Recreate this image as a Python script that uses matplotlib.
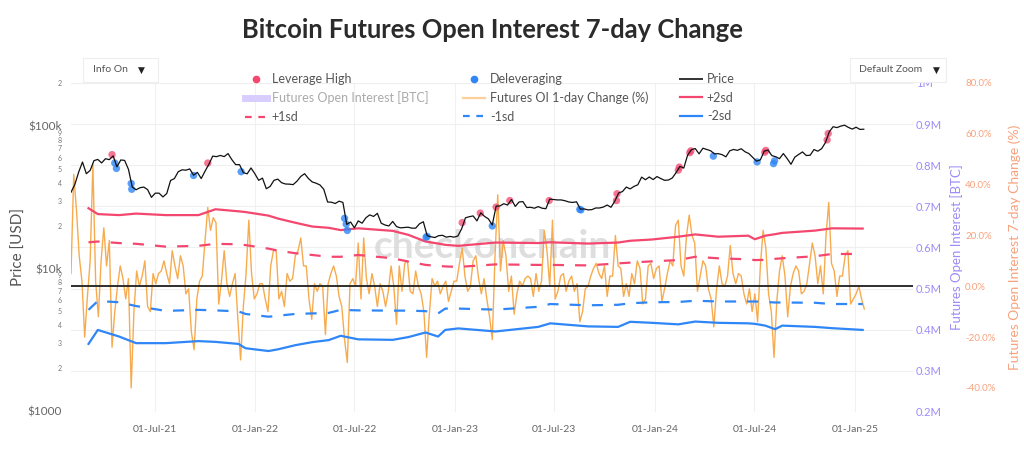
import numpy as np
import pandas as pd
import matplotlib
matplotlib.use("Agg")
import matplotlib.pyplot as plt
import matplotlib.dates as mdates
from matplotlib.lines import Line2D
from matplotlib.patches import Rectangle
from matplotlib.ticker import FixedLocator, FuncFormatter

plt.rcParams['font.family'] = ['Lato', 'DejaVu Sans']
plt.rcParams['axes.unicode_minus'] = False

# ---- data ----
# futures OI change (%), one value every 5 days from 2021-01-29
oi_change_start = "2021-01-29"
oi_change = [
    5, 44, 30, 12, 2, -20, -4, 10, 48, 2, -12, 10, 23, 8, 18, -24, -10, 0, 8, 3,
    -5, 3, -40, -10, 6, 0, 4, 10, -8, -10, 5, 1, 5, 6, 10, 5, 1, 14, 8, 3,
    12, 8, -3, -1, -18, -25, -5,
    2, 4, 18, 31, 22, 27, 25, -7, 2, 14, 1, -4, 1, 5, -13, -29, -8, 5, 26, 5,
    -5, -3, 1, 1, -5, -10, 8, 14, 14, -5, -2, -8, 5, 2, 3, 12, 14, 19, 8, 8,
    -5, -13, 1, -2, 1, 0, -19, 1,
    5, 8, 4, -4, -8, -21, -30, 1, 3, 0, 17, -5, 19, 3, -3, 5, 0, -8, 1, -2,
    -8, -2, 8, 0, -15, 8, -2, 9, 10, -2, -3, 6, 0, -3, -10, -28, -11, 3, 0, 2,
    -3, 0, 2, -6, -2, 2, 2,
    9, 15, 4, -2, 0, 10, 12, 3, -3, 3, -5, -12, -21, 12, 36, 6, 18, 12, -2, 4,
    -11, -3, 2, 0, 3, 4, 3, -4, 5, -2, 2, 22, 14, 0, 26, -5, -2, 4, 5, -2,
    2, 4, -2, 1, -14, -10, -1, 0,
    4, 7, 9, 5, 3, 8, -4, 4, 4, 20, 8, 7, -4, 1, -4, 5, 1, 10, 7, -7,
    -5, 8, 9, 3, 7, 8, -6, -1, 5, 10, 8, 24, 26, 8, 4, 20, 28, 20, 17, -2,
    4, 10, 8, -1, -5, -16, -1,
    8, 1, 0, 4, 16, 5, 1, 5, 4, -3, -7, -1, -10, -3, -14, 8, 22, 15, -3, -10,
    -28, -6, 6, 12, 4, -12, 0, 5, 8, 6, -3, -2, 1, 9, 17, 12, 1, 8, -3, 20,
    33, 9, 6, -4, 4, 4, 12, 14, -7, -5, -3, 0, -5, -9,
]

# BTC price (USD), weekly from 2021-01-29
price_start = "2021-01-29"
price = [
    34300, 38900, 47500, 55900, 46300, 48800, 57200, 58300, 55100, 59000,
    58100, 61700, 51700, 57800, 57400, 49700, 37300, 35700, 36900, 37300,
    35800, 31600, 33800, 33800, 31800, 33600, 41500, 42800, 47800, 49300,
    49000, 50000, 45200, 47300, 42800, 48200, 53900, 61500, 61000, 62200,
    61000, 64100, 58100, 53600, 53600, 47100, 46200, 50800, 46300,
    41600, 43100, 36300, 37700, 41600, 42400, 40000, 39200, 39100, 38800,
    41000, 44300, 46300, 42800, 40500, 39700, 38600, 36000, 29300, 29200,
    28600, 29700, 29100, 20400, 21200, 19300, 21600, 20800, 22700, 23800,
    23200, 24400, 20800, 20200, 19900, 21400, 19700, 19300, 19400, 19500,
    19200, 19200, 20600, 21300, 17000, 16700, 16500, 17000, 17100, 16600,
    16800, 16600,
    16900, 19000, 22700, 23100, 23400, 21600, 24600, 23200, 22300, 20200,
    27400, 27500, 28500, 27900, 30500, 27300, 29300, 29500, 26800, 26900,
    26500, 27200, 26500, 26300, 30700, 30500, 30300, 30300, 29900, 29300,
    29100, 29400, 26100, 26200, 25800, 25900, 26600, 26600, 27000, 27900,
    26900, 29700, 33900, 34700, 37300, 36200, 37700, 38700, 43800, 42000,
    43900, 42100,
    44200, 42800, 41600, 41800, 43200, 47100, 52100, 50700, 62400, 68300,
    69500, 63800, 69900, 68500, 67100, 63800, 64000, 63000, 60800, 67000,
    68500, 67500, 69300, 66000, 64100, 60300, 56700, 57900, 66600, 67900,
    62000, 60900, 59000, 64100, 59100, 53900, 60500, 63200, 65800, 62100,
    62400, 68400, 66600, 69400, 76600, 91100, 98900, 97500, 99900, 101400,
    97800, 95200,
    98100, 94700, 95000,
]

# standard deviation bands (%)
band_dates = [
    "2021-03-02", "2021-03-19", "2021-04-27", "2021-05-28", "2021-07-21",
    "2021-09-19", "2021-10-20", "2021-12-01", "2021-12-14", "2022-01-25",
    "2022-02-12", "2022-03-15", "2022-04-15", "2022-05-15", "2022-06-06",
    "2022-07-08", "2022-09-09", "2022-10-08", "2022-11-08", "2022-12-01",
    "2022-12-14", "2023-01-07", "2023-03-16", "2023-06-02", "2023-06-24",
    "2023-09-01", "2023-10-26", "2023-11-17", "2023-12-27", "2024-02-13",
    "2024-03-15", "2024-04-26", "2024-06-20", "2024-07-02", "2024-07-21",
    "2024-08-08", "2024-08-21", "2024-10-20", "2024-11-20", "2025-01-15",
]
plus2sd = [30.7, 28.4, 28.0, 28.6, 28.0, 28.0, 30.3, 29.5, 29.2, 27.8,
           26.6, 25.0, 23.5, 23.0, 22.1, 22.8, 21.8, 20.2, 17.6, 16.8,
           16.3, 15.9, 17.2, 17.0, 17.3, 16.8, 17.2, 17.9, 18.4, 19.5,
           20.4, 19.5, 19.9, 18.5, 19.9, 20.5, 21.0, 21.9, 22.8, 22.7]
plus1sd = [17.3, 17.6, 17.0, 16.7, 15.6, 15.9, 16.7, 16.5, 16.2, 14.8,
           14.0, 13.0, 12.3, 11.6, 11.6, 12.3, 11.0, 9.7, 8.4, 8.0,
           7.8, 7.6, 8.6, 8.4, 8.4, 8.2, 9.0, 9.3, 9.8, 10.3,
           11.6, 11.0, 10.6, 10.3, 10.4, 10.8, 11.0, 11.8, 12.7, 12.7]
minus1sd = [-9.3, -5.8, -6.3, -7.8, -9.7, -9.3, -9.5, -9.9, -10.9, -12.0,
            -11.6, -10.9, -10.7, -10.5, -9.3, -9.5, -9.6, -9.6, -9.8, -10.7,
            -8.8, -8.8, -9.2, -8.1, -7.0, -7.5, -7.3, -6.7, -6.3, -6.2,
            -5.7, -6.0, -6.0, -6.0, -6.2, -6.4, -6.4, -6.5, -7.0, -7.0]
minus2sd = [-22.7, -17.2, -19.8, -22.4, -22.4, -21.6, -21.9, -22.7, -24.4, -25.5,
            -24.8, -23.2, -22.0, -21.2, -19.5, -20.9, -21.1, -20.0, -18.2, -19.8,
            -17.2, -16.6, -17.8, -16.0, -14.6, -15.8, -16.0, -14.0, -14.4, -15.0,
            -13.9, -14.4, -14.6, -14.8, -15.5, -16.9, -15.5, -16.0, -16.5, -17.2]

lev_high_dates = ["2021-04-14", "2021-10-06", "2023-01-14", "2023-02-16", "2023-03-17",
                  "2023-04-11", "2023-06-22", "2023-10-23", "2023-10-24", "2024-02-13",
                  "2024-02-15", "2024-03-05", "2024-03-07", "2024-07-20", "2024-07-22",
                  "2024-11-11", "2024-11-13"]
lev_high_price = [63000, 55000, 21000, 24500, 27000, 30000, 30000, 30000, 33500, 49000,
                  51500, 65000, 67000, 65500, 67500, 80000, 88600]
delev_dates = ["2021-04-19", "2021-04-22", "2021-05-19", "2021-05-20", "2021-09-10",
               "2021-12-06", "2022-06-13", "2022-06-16", "2022-06-18", "2022-11-09",
               "2022-11-11", "2023-03-10", "2023-08-17", "2023-08-19", "2024-04-17",
               "2024-07-06", "2024-08-05", "2024-08-07"]
delev_price = [55000, 50400, 39500, 36000, 45000, 47800, 22500, 20500, 18500, 16600,
               16800, 19900, 26000, 25800, 61500, 56000, 54500, 57000]

x_ticks = ["2021-07-01", "2022-01-01", "2022-07-01", "2023-01-01",
           "2023-07-01", "2024-01-01", "2024-07-01", "2025-01-01"]

PINK = '#f4476f'
BLUE = '#2f86f6'
ORANGE = '#f7a23c'
PURPLE = '#9b8cf7'
SALMON = '#f7a27d'
GREY = '#666666'


def px(x, y):
    # figure fraction from pixel position (top-left origin)
    return x / 1024, 1 - y / 450


def main():
    oi_dates = pd.date_range(oi_change_start, periods=len(oi_change), freq='5D')
    price_dates = pd.date_range(price_start, periods=len(price), freq='7D')
    bdates = pd.to_datetime(band_dates)
    ticks = pd.to_datetime(x_ticks)

    fig = plt.figure(figsize=(10.24, 4.5), dpi=100)
    rect = [71 / 1024, 1 - 412 / 450, 842 / 1024, 329 / 450]
    ax = fig.add_axes(rect)
    ax_oi = ax.twinx()
    ax_pct = ax.twinx()
    ax_oi.set_zorder(0)
    ax_pct.set_zorder(1)
    ax.set_zorder(2)
    ax.patch.set_visible(False)
    ax_pct.patch.set_visible(False)

    xmin, xmax = pd.Timestamp("2021-01-29"), pd.Timestamp("2025-04-17")

    # OI axis: grid only (series is legend-only)
    ax_oi.set_ylim(200000, 1000000)
    ax_oi.yaxis.set_major_locator(FixedLocator(np.arange(200000, 1000001, 100000)))
    ax_oi.yaxis.set_major_formatter(FuncFormatter(
        lambda v, p: '1M' if v >= 999999 else '%.1fM' % (v / 1e6)))
    ax_oi.grid(axis='y', color='#efefef', lw=0.8)
    for t in ticks:
        ax_oi.axvline(t, color='#f1f1f1', lw=0.8, zorder=0)
    ax_oi.tick_params(axis='y', length=0, pad=2, labelsize=8, labelcolor=PURPLE)
    ax_oi.set_ylabel("Futures Open Interest [BTC]", color=PURPLE, fontsize=9.5)
    ax_oi.yaxis.set_label_coords(1.0445, 0.5)

    # percent axis
    ax_pct.plot(oi_dates, oi_change, color=ORANGE, lw=1.0, alpha=0.9, zorder=2)
    ax_pct.axhline(0, color='#1e1e1e', lw=1.3, zorder=5)
    ax_pct.plot(bdates, plus2sd, color=PINK, lw=1.6, zorder=3)
    ax_pct.plot(bdates, plus1sd, color=PINK, lw=1.6, ls=(0, (5, 5)), zorder=3)
    ax_pct.plot(bdates, minus1sd, color=BLUE, lw=1.6, ls=(0, (5, 5)), zorder=3)
    ax_pct.plot(bdates, minus2sd, color=BLUE, lw=1.6, zorder=3)
    ax_pct.set_ylim(-49.5, 80)
    ax_pct.yaxis.set_major_locator(FixedLocator([-40, -20, 0, 20, 40, 60, 80]))
    ax_pct.yaxis.set_major_formatter(FuncFormatter(lambda v, p: '%.1f%%' % v))
    ax_pct.tick_params(axis='y', length=0, pad=37.5, labelsize=7, labelcolor=SALMON)
    ax_pct.set_ylabel("Futures Open Interest 7-day Change (%)", color=SALMON, fontsize=10)
    ax_pct.yaxis.set_label_coords(1.113, 0.5)

    # price axis (log)
    ax.scatter(pd.to_datetime(lev_high_dates), lev_high_price, s=28, color=PINK,
               alpha=0.75, edgecolor='none', zorder=3)
    ax.scatter(pd.to_datetime(delev_dates), delev_price, s=28, color=BLUE,
               alpha=0.8, edgecolor='none', zorder=3)
    ax.plot(price_dates, price, color='#111111', lw=0.9, zorder=4)
    ax.set_yscale('log')
    ax.set_ylim(984, 200500)
    ax.yaxis.set_major_locator(FixedLocator([1000, 10000, 100000]))
    ax.yaxis.set_major_formatter(FuncFormatter(
        lambda v, p: {1000: '$1000', 10000: '$10k', 100000: '$100k'}.get(int(round(v)), '')))
    minors = [m * d for d in (1000, 10000, 100000) for m in range(2, 10)]
    ax.yaxis.set_minor_locator(FixedLocator(minors))
    ax.yaxis.set_minor_formatter(FuncFormatter(
        lambda v, p: str(int(round(v / 10 ** np.floor(np.log10(v)))))))
    ax.tick_params(axis='y', which='major', length=0, pad=6.5, labelsize=8.5, labelcolor=GREY)
    ax.tick_params(axis='y', which='minor', length=0, pad=6.5, labelsize=5, labelcolor='#777777')
    ax.set_ylabel("Price [USD]", color='#555555', fontsize=11)
    ax.yaxis.set_label_coords(-0.053, 0.5)

    ax.set_xlim(xmin, xmax)
    ax.xaxis.set_major_locator(FixedLocator(mdates.date2num(ticks)))
    ax.xaxis.set_major_formatter(mdates.DateFormatter('%d-%b-%y'))
    ax.tick_params(axis='x', length=0, pad=9, labelsize=7.5, labelcolor=GREY)

    for a in (ax, ax_oi, ax_pct):
        for s in a.spines.values():
            s.set_visible(False)

    # watermark
    fig.text(0.481, 0.452, "checkonchain", fontsize=28, fontweight='bold',
             color='#d6d6d6', alpha=0.8, ha='center', va='center', zorder=0)

    # title
    fig.text(0.481, 0.933, "Bitcoin Futures Open Interest 7-day Change",
             fontsize=18.4, fontweight='bold', color='#2b2b2b', ha='center', va='center')

    # dropdown menus
    for x0, w in ((83, 75), (850, 96)):
        fig.add_artist(Rectangle(px(x0, 82), w / 1024, 24 / 450, transform=fig.transFigure,
                                 facecolor='white', edgecolor='#eeeeee', lw=0.8))
    fig.text(*px(93, 70), "Info On", fontsize=7.5, color='#555555', va='center')
    fig.text(*px(138, 70), "\u25BC", fontsize=6.5, color='#222222', va='center',
             family=['DejaVu Sans'])
    fig.text(*px(859, 70), "Default Zoom", fontsize=7.5, color='#555555', va='center')
    fig.text(*px(933, 70), "\u25BC", fontsize=6.5, color='#222222', va='center',
             family=['DejaVu Sans'])

    # legend, one block per column
    columns = [
        (245, [(Line2D([], [], marker='o', ls='none', color=PINK, markersize=4.5), "Leverage High"),
               (Line2D([], [], color='#d9cdff', lw=5), "Futures Open Interest [BTC]"),
               (Line2D([], [], color=PINK, lw=1.6, ls=(0, (3, 3))), "+1sd")]),
        (463, [(Line2D([], [], marker='o', ls='none', color=BLUE, markersize=4.5), "Deleveraging"),
               (Line2D([], [], color='#fbcf9a', lw=1.6), "Futures OI 1-day Change (%)"),
               (Line2D([], [], color=BLUE, lw=1.6, ls=(0, (3, 3))), "-1sd")]),
        (680, [(Line2D([], [], color='#333333', lw=1.4), "Price"),
               (Line2D([], [], color=PINK, lw=1.6), "+2sd"),
               (Line2D([], [], color=BLUE, lw=1.6), "-2sd")]),
    ]
    for x0, items in columns:
        leg = fig.legend([h for h, _ in items], [l for _, l in items], loc='upper left',
                         bbox_to_anchor=px(x0, 73), frameon=False, fontsize=9,
                         handlelength=1.75, handletextpad=0.4, labelspacing=0.52,
                         borderpad=0, borderaxespad=0)
        for t in leg.get_texts():
            t.set_color('#aaaaaa' if t.get_text().startswith("Futures Open") else '#555555')

    fig.savefig("out.png", dpi=100, facecolor='white')


if __name__ == '__main__':
    main()
